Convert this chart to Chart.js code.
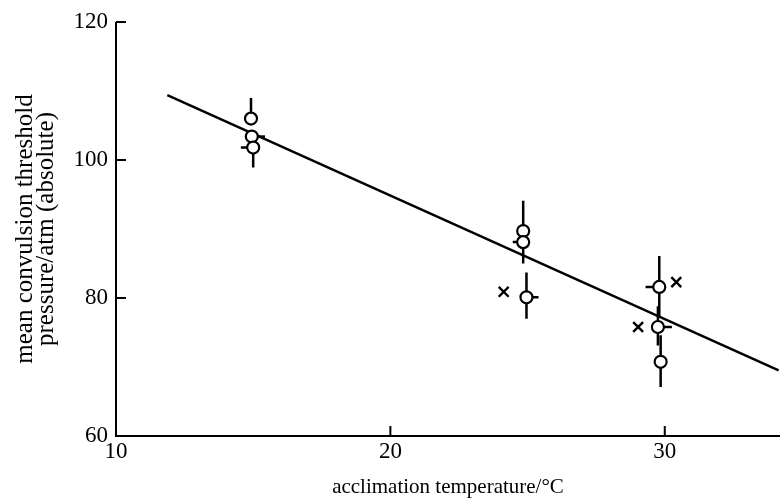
<!DOCTYPE html>
<html>
<head>
<meta charset="utf-8">
<script src="https://cdn.jsdelivr.net/npm/chart.js@4/dist/chart.umd.min.js"></script>
<style>
  html, body { margin: 0; padding: 0; background: #fff; }
  #wrap { width: 780px; height: 500px; }
</style>
</head>
<body>
<div id="wrap"><canvas id="c" width="780" height="500"></canvas></div>
<script>
// ---- data ----
const xTicks = [10, 20, 30];
const yTicks = [60, 80, 100, 120];

// circles: acclimation temperature, threshold pressure, error bar extents
const circX     = [14.92, 14.95, 15.0, 24.84, 24.84, 24.96, 29.8, 29.75, 29.85];
const circY     = [106.0, 103.4, 101.8, 89.7, 88.1, 80.1, 81.6, 75.8, 70.75];
const circYHigh = [109.0, null, null, 94.1, null, 83.7, 86.1, 78.8, 74.6];
const circYLow  = [null, null, 98.9, null, 85.0, 77.0, 77.3, 73.1, 67.1];
const circXLow  = [null, null, 14.55, null, 24.46, null, 29.3, null, null];
const circXHigh = [null, 15.43, null, null, null, 25.4, null, 30.26, null];

// crosses
const crossX = [24.13, 30.42, 29.03];
const crossY = [80.9, 82.3, 75.8];

// regression line end points
const lineX = [11.87, 34.15];
const lineY = [109.4, 69.5];

const X_MIN = 10, X_MAX = 34.2, Y_MIN = 60, Y_MAX = 120;

const FONT = "'Liberation Serif', 'DejaVu Serif', serif";

const errorBars = {
  id: 'errorBars',
  beforeDatasetsDraw(chart) {
    const ctx = chart.ctx, xs = chart.scales.x, ys = chart.scales.y;
    ctx.save();
    ctx.strokeStyle = '#000';
    ctx.lineWidth = 2.5;
    ctx.lineCap = 'butt';
    for (let i = 0; i < circX.length; i++) {
      const px = xs.getPixelForValue(circX[i]);
      const py = ys.getPixelForValue(circY[i]);
      ctx.beginPath();
      if (circYHigh[i] !== null) { ctx.moveTo(px, py); ctx.lineTo(px, ys.getPixelForValue(circYHigh[i])); }
      if (circYLow[i] !== null)  { ctx.moveTo(px, py); ctx.lineTo(px, ys.getPixelForValue(circYLow[i])); }
      if (circXLow[i] !== null)  { ctx.moveTo(px, py); ctx.lineTo(xs.getPixelForValue(circXLow[i]), py); }
      if (circXHigh[i] !== null) { ctx.moveTo(px, py); ctx.lineTo(xs.getPixelForValue(circXHigh[i]), py); }
      ctx.stroke();
    }
    ctx.restore();
  }
};

const axesInward = {
  id: 'axesInward',
  afterDraw(chart) {
    const ctx = chart.ctx, xs = chart.scales.x, ys = chart.scales.y;
    const a = chart.chartArea;
    ctx.save();
    ctx.strokeStyle = '#000';
    ctx.lineWidth = 2;
    ctx.beginPath();
    ctx.moveTo(a.left, ys.getPixelForValue(Y_MAX));
    ctx.lineTo(a.left, ys.getPixelForValue(Y_MIN));
    ctx.lineTo(a.right, ys.getPixelForValue(Y_MIN));
    ctx.stroke();
    ctx.beginPath();
    yTicks.forEach(v => {
      if (v === Y_MIN) return;
      const py = ys.getPixelForValue(v);
      ctx.moveTo(a.left, py); ctx.lineTo(a.left + 10, py);
    });
    xTicks.forEach(v => {
      if (v === X_MIN) return;
      const px = xs.getPixelForValue(v);
      const py = ys.getPixelForValue(Y_MIN);
      ctx.moveTo(px, py); ctx.lineTo(px, py - 10);
    });
    ctx.stroke();
    ctx.restore();
  }
};

new Chart(document.getElementById('c'), {
  type: 'scatter',
  data: {
    datasets: [
      {
        data: lineX.map((x, i) => ({ x, y: lineY[i] })),
        showLine: true,
        borderColor: '#000',
        borderWidth: 2.5,
        pointRadius: 0,
        order: 3
      },
      {
        data: circX.map((x, i) => ({ x, y: circY[i] })),
        pointStyle: 'circle',
        pointRadius: 6,
        pointBackgroundColor: '#fff',
        pointBorderColor: '#000',
        pointBorderWidth: 2.2,
        order: 1
      },
      {
        data: crossX.map((x, i) => ({ x, y: crossY[i] })),
        pointStyle: 'crossRot',
        pointRadius: 7,
        pointBorderColor: '#000',
        pointBorderWidth: 2.4,
        order: 2
      }
    ]
  },
  options: {
    responsive: false,
    animation: false,
    events: [],
    layout: { autoPadding: false, padding: { top: 22, right: 0, left: 0, bottom: 0 } },
    plugins: { legend: { display: false }, tooltip: { enabled: false } },
    scales: {
      x: {
        type: 'linear',
        min: X_MIN, max: X_MAX,
        afterBuildTicks: s => { s.ticks = xTicks.map(v => ({ value: v })); },
        afterFit: s => { s.height = 64; s.paddingRight = 0; s.paddingLeft = 0; },
        grid: { display: false, drawTicks: false },
        border: { display: false },
        ticks: { color: '#000', font: { family: FONT, size: 23 }, padding: 2, maxRotation: 0 },
        title: {
          display: true, text: 'acclimation temperature/°C', color: '#000',
          font: { family: FONT, size: 21 }, padding: { top: 6, bottom: 0 }
        }
      },
      y: {
        type: 'linear',
        min: Y_MIN, max: Y_MAX,
        afterBuildTicks: s => { s.ticks = yTicks.map(v => ({ value: v })); },
        afterFit: s => { s.width = 116; },
        grid: { display: false, drawTicks: false },
        border: { display: false },
        ticks: { color: '#000', font: { family: FONT, size: 23 }, padding: 8 },
        title: {
          display: true, text: ['mean convulsion threshold', 'pressure/atm (absolute)'], color: '#000',
          font: { family: FONT, size: 25, lineHeight: 0.84 }, padding: { top: 15, bottom: 0 }
        }
      }
    }
  },
  plugins: [errorBars, axesInward]
});
</script>
</body>
</html>
